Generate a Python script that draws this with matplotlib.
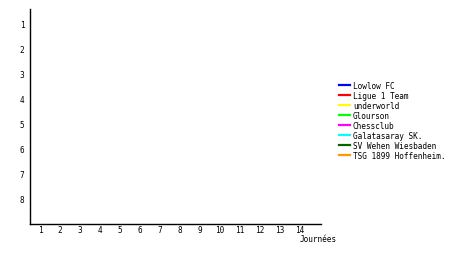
import matplotlib
matplotlib.use("Agg")
import matplotlib.pyplot as plt

teams = ["Lowlow FC", "Ligue 1 Team", "underworld", "Glourson", "Chessclub",
         "Galatasaray SK.", "SV Wehen Wiesbaden", "TSG 1899 Hoffenheim."]
colors = ["#0000ff", "#ff0000", "#ffff00", "#00ff00", "#ff00ff",
          "#00ffff", "#006600", "#ff9900"]
rounds = list(range(1, 15))
ranks = list(range(1, 9))
# no results recorded yet: each team has an empty position series
positions = {t: [] for t in teams}

W, H = 460, 255
fig = plt.figure(figsize=(W / 100, H / 100), dpi=100)
ax = fig.add_axes([30 / W, (H - 225) / H, 291 / W, 215 / H])

for t, c in zip(teams, colors):
    ax.plot(rounds[:len(positions[t])], positions[t], color=c, lw=1.6, label=t)

ax.set_xlim(0.5, 15.05)
ax.set_ylim(9, 0.4)
ax.set_xticks(rounds)
ax.set_yticks(ranks)
FS = 5.6
font = dict(family="DejaVu Sans Mono", size=FS)
ax.set_xticklabels([str(r) for r in rounds], **font)
ax.set_yticklabels([str(r) for r in ranks], **font)
ax.tick_params(axis="x", length=0, pad=1)
ax.tick_params(axis="y", length=0, pad=4)
ax.spines["top"].set_visible(False)
ax.spines["right"].set_visible(False)
for s in ("left", "bottom"):
    ax.spines[s].set_linewidth(1)
    ax.spines[s].set_color("black")

fig.text(300 / W, 1 - 240 / H, "Journées", ha="left", va="center",
         family="DejaVu Sans Mono", size=FS)

fig.legend(loc="upper left", bbox_to_anchor=(339 / W, 1 - 82 / H),
           frameon=False, prop=dict(family="DejaVu Sans Mono", size=FS),
           handlelength=1.4, handletextpad=0.4, labelspacing=0.12,
           borderaxespad=0, borderpad=0)

fig.savefig("out.png", dpi=100)
